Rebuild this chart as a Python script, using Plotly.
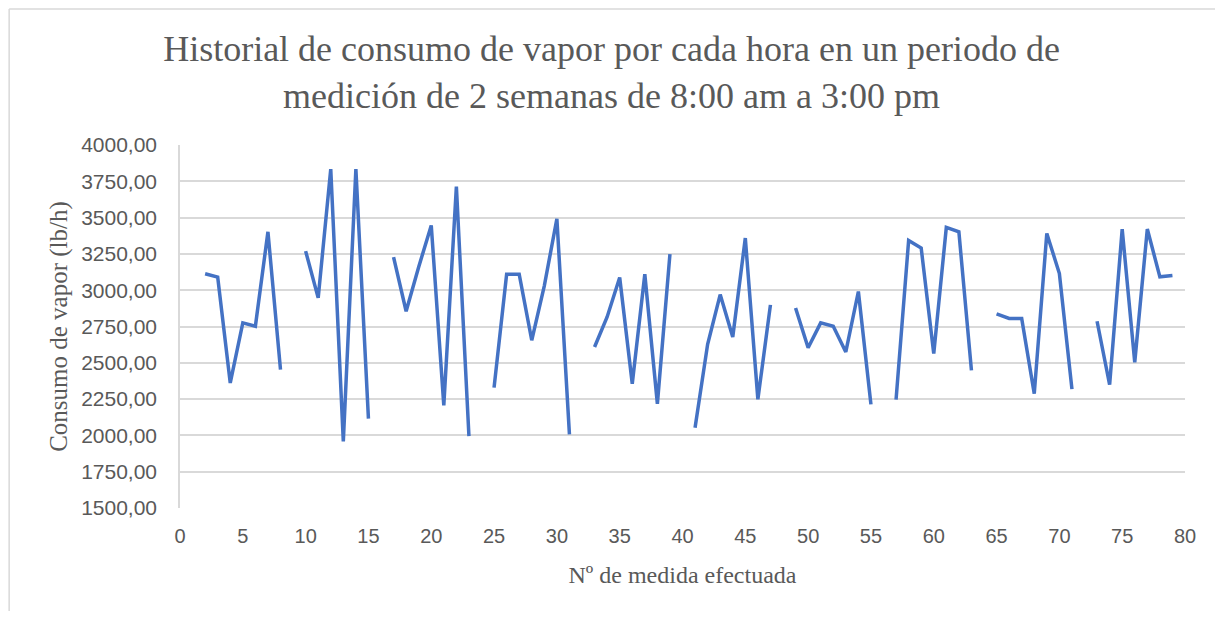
import plotly.graph_objects as go

medida = list(range(1, 80))
consumo = [
    None, 3113, 3090, 2361, 2775, 2752, 3402, 2453,
    None, 3269, 2947, 3834, 1959, 3834, 2115,
    None, 3228, 2855, 3160, 3446, 2207, 3713, 1995,
    None, 2329, 3110, 3110, 2655, 3030, 3492, 2007,
    None, 2609, 2816, 3087, 2356, 3110, 2218, 3248,
    None, 2053, 2627, 2970, 2678, 3359, 2248, 2899,
    None, 2878, 2604, 2775, 2752, 2575, 2991, 2214,
    None, 2246, 3342, 3290, 2563, 3432, 3402, 2448,
    None, 2837, 2805, 2805, 2287, 3391, 3115, 2319,
    None, 2786, 2349, 3421, 2503, 3421, 3092, 3101,
]

titulo = "Historial de consumo de vapor por cada hora en un periodo de<br>medición de 2 semanas de 8:00 am a 3:00 pm"
titulo_y = "Consumo de vapor (lb/h)"
titulo_x = "Nº de medida efectuada"

fig = go.Figure()
fig.add_trace(go.Scatter(
    x=medida, y=consumo, mode="lines",
    line=dict(color="#4472C4", width=3.5),
    connectgaps=False, showlegend=False,
))

serif = "Liberation Serif, Times New Roman, serif"
sans = "Liberation Sans, Arial, sans-serif"

fig.update_layout(
    width=1207, height=603,
    margin=dict(l=172, r=30, t=137, b=103),
    paper_bgcolor="white", plot_bgcolor="white",
    separators=",.",
    title=dict(text=titulo, x=0.5, xanchor="center", y=0.912, yanchor="middle",
               font=dict(family=serif, size=36, color="#595959")),
    xaxis=dict(range=[0, 80], dtick=5, tick0=0, showgrid=False, zeroline=False,
               showline=False, ticks="", automargin=False,
               tickfont=dict(family=sans, size=20, color="#595959"),
               ticklabelstandoff=14,
               title=dict(text=titulo_x, font=dict(family=serif, size=24, color="#595959"),
                          standoff=20)),
    yaxis=dict(range=[1500, 4000], dtick=250, tick0=1500, tickformat=".2f",
               showgrid=True, gridcolor="#D9D9D9", gridwidth=1.5, zeroline=False,
               showline=True, linecolor="#D9D9D9", linewidth=1.5, ticks="", automargin=False,
               tickfont=dict(family=sans, size=21, color="#595959"),
               ticklabelstandoff=17,
               title=dict(text=titulo_y, font=dict(family=serif, size=25, color="#595959"),
                          standoff=6)),
)

# outer chart border (left and top)
fig.add_shape(type="line", xref="paper", yref="paper", x0=-0.170, x1=-0.170, y0=1.375, y1=-0.30,
              line=dict(color="#D9D9D9", width=1.5))
fig.add_shape(type="line", xref="paper", yref="paper", x0=-0.170, x1=1.04, y0=1.375, y1=1.375,
              line=dict(color="#D9D9D9", width=1.5))

fig.write_html("out.html")
